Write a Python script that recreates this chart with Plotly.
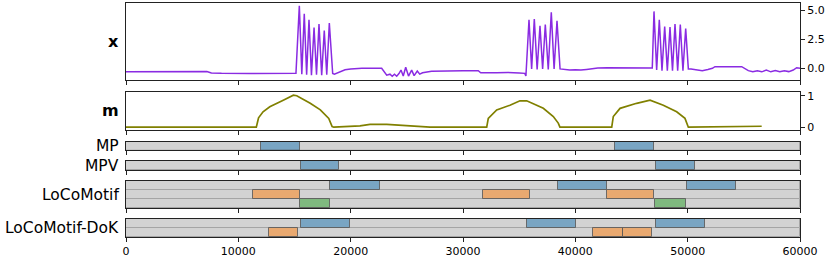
import plotly.graph_objects as go

# ---------------- data ----------------
x_time = [0, 2500, 2900, 4000, 5500, 7200, 7600, 8500, 11000, 13000, 15130,
          15430, 15650, 15870, 16080, 16290, 16510, 16740, 16960, 17180, 17420,
          17650, 17870, 18100, 18400, 18550, 18700, 19100, 19500, 20000, 21000,
          22760, 23210, 23500, 23700, 23900, 24100, 24300, 24480, 24680, 24900,
          25150, 25430, 25650, 25930, 26150, 26400, 27200, 28000, 30000, 31360,
          31580, 33000, 34000, 35000, 35500, 35600,
          35875, 36110, 36347, 36600, 36854, 37090, 37326, 37590, 37860, 38110,
          38368, 38640, 39000, 39500, 40000, 40500, 41000, 42000, 42820, 46000,
          46850,
          47003, 47240, 47475, 47715, 47955, 48190, 48427, 48650, 48872, 49110,
          49344, 49580, 49824, 50060, 50300, 50800, 51300, 51800, 52200, 52430,
          53500, 54810, 55400, 55800, 56200, 56600, 57000, 57400, 57800, 58200,
          58600, 59000, 59400, 59700, 60000]
x_vals = [-0.29, -0.30, -0.24, -0.27, -0.26, -0.27, -0.40, -0.43, -0.44, -0.43, -0.43,
          5.37, -0.50, 4.68, -0.55, 4.16, -0.60, 3.50, -0.55, 3.79, -0.60,
          3.24, -0.55, 3.88, -0.45, -0.50, -0.45, -0.25, -0.12, -0.05, 0.0,
          0.0, -0.58, -0.50, -0.68, -0.50, -0.68, -0.45, -0.15, -0.66, 0.09,
          -0.66, -0.15, -0.62, -0.23, -0.50, -0.38, -0.25, -0.22, -0.20, -0.20,
          -0.38, -0.38, -0.35, -0.40, -0.43, -0.66,
          4.16, -0.05, 4.22, -0.10, 3.65, -0.05, 3.76, -0.10, 4.80, -0.05,
          4.08, -0.05, -0.10, -0.15, -0.12, -0.15, -0.10, 0.02, 0.05, 0.05,
          0.02,
          4.88, -0.15, 4.16, -0.20, 3.59, -0.20, 3.53, -0.20, 3.79, -0.20,
          3.76, -0.20, 3.41, -0.05, -0.06, -0.15, -0.20, -0.10, 0.0, 0.14,
          0.15, 0.14, -0.20, -0.30, -0.20, -0.30, -0.15, -0.30, -0.18, -0.30,
          -0.20, -0.28, -0.15, 0.05, 0.0]

m_time = [0, 11600, 11700, 11800, 12200, 12800, 14000, 14900, 15200, 16400, 17300,
          18050, 18350, 18500, 20830, 21720, 23210, 24390, 25280, 26170, 27060,
          32110, 32250, 33000, 34180, 35070, 35670, 37150, 38040, 38480, 38630,
          43240, 43380, 43980, 45460, 46650, 47830, 49020, 49760, 50060, 56590]
m_vals = [0, 0, 0.15, 0.30, 0.49, 0.65, 0.86, 1.02, 1.0, 0.76, 0.55,
          0.28, 0.02, 0.0, 0.04, 0.09, 0.09, 0.06, 0.04, 0.01, 0.0,
          0.0, 0.28, 0.55, 0.70, 0.84, 0.84, 0.60, 0.34, 0.13, 0.0,
          0.0, 0.34, 0.60, 0.76, 0.86, 0.70, 0.49, 0.28, 0.0, 0.03]

mp_start = [12000, 43500]
mp_end = [15500, 47000]

mpv_start = [15600, 47200]
mpv_end = [19000, 50650]

loco_m1_start = [18200, 38450, 49900]
loco_m1_end = [22600, 42800, 54300]
loco_m2_start = [11300, 31800, 42800]
loco_m2_end = [15500, 36000, 47000]
loco_m3_start = [15500, 47100]
loco_m3_end = [18200, 49850]

dok_m1_start = [15600, 35700, 47200]
dok_m1_end = [19900, 40100, 51550]
dok_m2_start = [12700, 41600, 44200]
dok_m2_end = [15300, 44200, 46800]

x_ticks = [0, 10000, 20000, 30000, 40000, 50000, 60000]
x_ticklabels = ["0", "10000", "20000", "30000", "40000", "50000", "60000"]
sig_ticks = [0, 2.5, 5]
sig_ticklabels = ["0.0", "2.5", "5.0"]
m_ticks = [0, 1]
m_ticklabels = ["0", "1"]

band_labels = ["MP", "MPV", "LoCoMotif", "LoCoMotif-DoK"]

# ---------------- layout helpers ----------------
W, H = 830, 260
ML, MR, MT, MB = 126, 30, 3, 23
PH = H - MT - MB
PW = W - ML - MR
FONT = "DejaVu Sans"
T_END = 60000

def ydom(top, bottom):
    return [(H - MB - bottom) / PH, (H - MB - top) / PH]

def ypaper(py):
    return (H - MB - py) / PH

BLUE = "rgba(31,119,180,0.5)"
ORANGE = "rgba(255,127,14,0.5)"
GREEN = "rgba(44,160,44,0.5)"
EDGE = "rgba(90,90,90,0.85)"
ROWEDGE = "rgb(165,165,165)"

fig = go.Figure()

fig.add_trace(go.Scatter(x=x_time, y=x_vals, mode="lines",
                         line=dict(color="#8a2be2", width=1.5),
                         xaxis="x", yaxis="y", showlegend=False))
fig.add_trace(go.Scatter(x=m_time, y=m_vals, mode="lines",
                         line=dict(color="#808000", width=1.7),
                         xaxis="x2", yaxis="y2", showlegend=False))

def add_rows(n, ax):
    for r in range(n):
        fig.add_trace(go.Bar(orientation="h", y=[r], x=[T_END], base=[0], width=1,
                             marker=dict(color="#d3d3d3", line=dict(color=ROWEDGE, width=1)),
                             xaxis="x" + ax, yaxis="y" + ax, showlegend=False,
                             hoverinfo="skip"))

def add_motif(starts, ends, row, color, ax):
    fig.add_trace(go.Bar(orientation="h", y=[row] * len(starts),
                         x=[e - s for s, e in zip(starts, ends)], base=starts, width=1,
                         marker=dict(color=color, line=dict(color=EDGE, width=1)),
                         xaxis="x" + ax, yaxis="y" + ax, showlegend=False))

add_rows(1, "3")
add_motif(mp_start, mp_end, 0, BLUE, "3")
add_rows(1, "4")
add_motif(mpv_start, mpv_end, 0, BLUE, "4")
add_rows(3, "5")
add_motif(loco_m1_start, loco_m1_end, 0, BLUE, "5")
add_motif(loco_m2_start, loco_m2_end, 1, ORANGE, "5")
add_motif(loco_m3_start, loco_m3_end, 2, GREEN, "5")
add_rows(2, "6")
add_motif(dok_m1_start, dok_m1_end, 0, BLUE, "6")
add_motif(dok_m2_start, dok_m2_end, 1, ORANGE, "6")

tickfont = dict(family=FONT, size=11, color="black")

def xax(anchor, labels=False):
    return dict(domain=[0, 1], anchor=anchor, range=[0, T_END], showgrid=False,
                zeroline=False, showline=True, mirror=True, linecolor="#222",
                linewidth=1, ticks="outside", ticklen=4, tickcolor="#222",
                tickvals=x_ticks, ticktext=x_ticklabels, showticklabels=labels,
                tickfont=tickfont, fixedrange=True, automargin=False)

def yband(top, bottom, n, anchor):
    return dict(domain=ydom(top, bottom), anchor=anchor, range=[n - 0.5, -0.5],
                showgrid=False, zeroline=False, showline=True, mirror=True,
                linecolor="#222", linewidth=1, showticklabels=False, ticks="",
                fixedrange=True)

layout = dict(
    width=W, height=H, margin=dict(l=ML, r=MR, t=MT, b=MB),
    paper_bgcolor="white", plot_bgcolor="white", barmode="overlay",
    bargap=0, showlegend=False, font=dict(family=FONT, color="black"),
    xaxis=xax("y"), xaxis2=xax("y2"), xaxis3=xax("y3"), xaxis4=xax("y4"),
    xaxis5=xax("y5"), xaxis6=xax("y6", labels=True),
    yaxis=dict(domain=ydom(3, 80), anchor="x", range=[-1.0, 5.6], side="right",
               tickvals=sig_ticks, ticktext=sig_ticklabels, ticks="outside",
               ticklen=4, tickcolor="#222", tickfont=tickfont, showgrid=False,
               zeroline=False, showline=True, mirror=True, linecolor="#222",
               linewidth=1, fixedrange=True, automargin=False),
    yaxis2=dict(domain=ydom(92, 129.7), anchor="x2", range=[-0.08, 1.12], side="right",
                tickvals=m_ticks, ticktext=m_ticklabels, ticks="outside",
                ticklen=4, tickcolor="#222", tickfont=tickfont, showgrid=False,
                zeroline=False, showline=True, mirror=True, linecolor="#222",
                linewidth=1, fixedrange=True, automargin=False),
    yaxis3=yband(141.7, 150.3, 1, "x3"),
    yaxis4=yband(161, 170.3, 1, "x4"),
    yaxis5=yband(181, 208.3, 3, "x5"),
    yaxis6=yband(219, 237, 2, "x6"),
)
fig.update_layout(**layout)

lab_x = (121 - ML) / PW
labels = [("<b>x</b>", 41.5, 16), ("<b>m</b>", 110.5, 16),
          (band_labels[0], 146, 15.5), (band_labels[1], 165.7, 15.5),
          (band_labels[2], 194.7, 15.5), (band_labels[3], 228, 15.5)]
for txt, py, sz in labels:
    fig.add_annotation(text=txt, xref="paper", yref="paper", x=lab_x, y=ypaper(py),
                       xanchor="right", yanchor="middle", showarrow=False,
                       font=dict(family=FONT, size=sz, color="black"))

fig.write_html("out.html", config={"displayModeBar": False},
               post_script="document.body.style.margin='0px';document.body.style.overflow='hidden';")
